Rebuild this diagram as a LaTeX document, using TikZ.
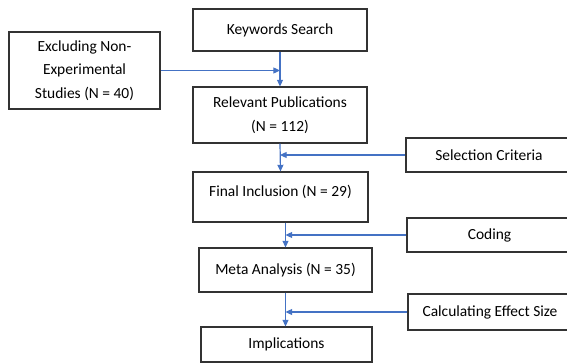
\documentclass[tikz,border=0pt]{standalone}
\usepackage{fontspec}
\setmainfont{Carlito}
\usetikzlibrary{arrows.meta}
\definecolor{flowblue}{HTML}{4472C4}
\tikzset{
  stage/.style={draw=black!80, line width=0.8pt, align=center, inner sep=0pt,
    font=\fontsize{11.6}{17.6}\selectfont},
  feed/.style={draw=flowblue, line width=0.9pt, -{Triangle[length=5pt,width=4.5pt]}}
}
\begin{document}
\begin{tikzpicture}[x=0.75pt,y=0.75pt,yscale=-1]
\useasboundingbox (0,0) rectangle (567,363);

% Main column
\node [stage, minimum width=130.5pt, minimum height=31.5pt] (kw) at (280,30) {Keywords Search};
\node [stage, minimum width=130.5pt, minimum height=42pt] (rel) at (280,115) {Relevant Publications\\(N = 112)};
\node [stage, minimum width=131.25pt, minimum height=37.5pt] (fin) at (280.5,197) {Final Inclusion (N = 29)\\[-8pt]\mbox{}};
\node [stage, minimum width=129.75pt, minimum height=33pt] (meta) at (285.5,270) {Meta Analysis (N = 35)};
\node [stage, minimum width=128.25pt, minimum height=26.25pt] (imp) at (286.5,344.5) {Implications};

% Side boxes
\node [stage, minimum width=113.25pt, minimum height=57.75pt] (excl) at (84.5,70.5) {Excluding Non-\\Experimental\\Studies (N = 40)};
\node [stage, minimum width=124.5pt, minimum height=25.5pt] (sel) at (489,155) {Selection Criteria};
\node [stage, minimum width=123.75pt, minimum height=25.5pt] (cod) at (489.5,235) {Coding};
\node [stage, minimum width=123pt, minimum height=27pt] (calc) at (490,312) {Calculating Effect Size};

% Connection
\draw [feed] (kw.south) -- (rel.north);
\draw [feed] (rel.south) -- (fin.north);
\draw [feed] (meta.north |- fin.south) -- (meta.north);
\draw [feed] (meta.south) -- (meta.south |- imp.north);
% Connection
\draw [feed] (excl.east) -- (excl.east -| kw.south);
\draw [feed] (sel.west) -- (sel.west -| rel.south);
\draw [feed] (cod.west) -- (cod.west -| meta.north);
\draw [feed] (calc.west) -- (calc.west -| meta.south);

\end{tikzpicture}
\end{document}
